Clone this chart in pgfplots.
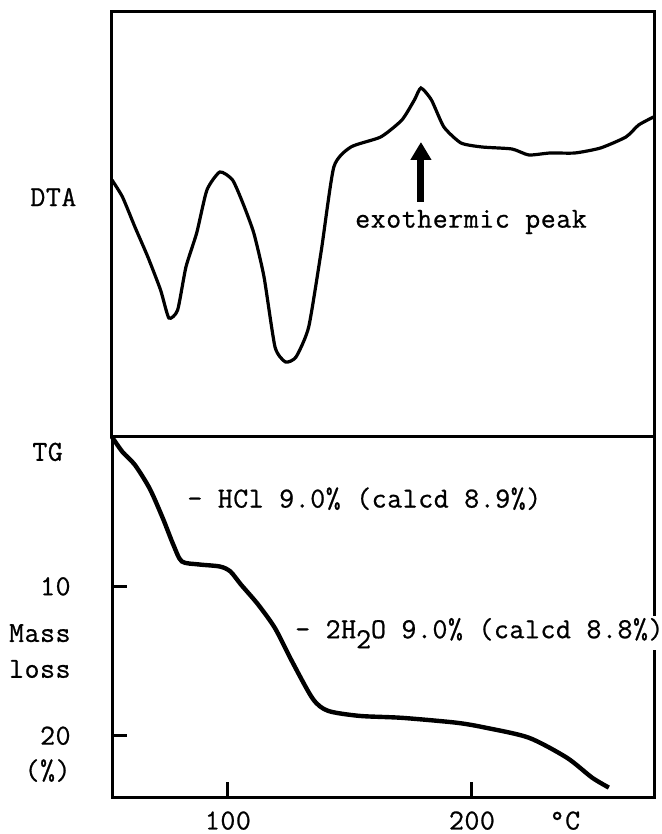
\documentclass[border=0pt]{standalone}
\usepackage{fontspec}
\setmainfont{Latin Modern Mono}[LetterSpace=2, FakeBold=0.8]
\usepackage{pgfplots}
\pgfplotsset{compat=1.18}
\usetikzlibrary{arrows.meta}
\newcommand{\tw}{\fontsize{14.5pt}{16pt}\selectfont}

\pgfplotsset{
  panel/.style={
    scale only axis, width=271pt,
    xmin=52.5, xmax=274.6,
    axis line style={line width=1.5pt},
    clip=false,
    tick align=inside,
    major tick length=7.5pt,
    tick style={line width=1.5pt, black},
    ticklabel style={font=\tw},
    /pgf/number format/assume math mode=true,
  }
}

\begin{document}
\begin{tikzpicture}[font=\tw]

% ---------- TG (mass loss, %) ----------
\begin{axis}[panel, name=tg,
    at={(0,0)}, anchor=south west,
    height=180pt,
    ymin=0, ymax=24.1, y dir=reverse,
    xtick={100,200}, ytick={10,20},
    xtick pos=bottom, ytick pos=left,
    xticklabel style={inner sep=0pt, anchor=north, yshift=-7pt},
    yticklabel style={inner sep=0pt, anchor=east, xshift=-20.5pt},
]
\addplot[line width=2.2pt, smooth, tension=0.45] table {
T    loss
52.5 0.00
56.8 1.00
61.9 1.87
68.0 3.47
73.4 5.47
77.6 7.20
81.1 8.33
88.0 8.53
96.7 8.67
101.0 9.00
105.3 9.87
112.3 11.20
119.3 12.80
126.2 15.00
134.8 17.53
141.0 18.33
153.9 18.67
171.3 18.80
193.8 19.13
205.9 19.47
223.3 20.13
238.9 21.47
249.2 22.80
256.1 23.47
};
\node[anchor=west, inner sep=0pt, xshift=-40pt] at (axis cs:52.5,1.0) {TG};
\node[anchor=east, inner sep=0pt, xshift=-20.5pt] at (axis cs:52.5,13.13) {Mass};
\node[anchor=east, inner sep=0pt, xshift=-20.5pt] at (axis cs:52.5,15.53) {loss};
\node[anchor=east, inner sep=0pt, xshift=-20.5pt] at (axis cs:52.5,22.33) {(\%)};
\node[anchor=north, inner sep=0pt, yshift=-7pt] at (axis cs:238.1,24.1) {°C};
\coordinate (hcl) at (axis cs:82.4,4.13);
\coordinate (water) at (axis cs:126.6,13.13);
\end{axis}

\node[anchor=west, inner sep=1pt] at (hcl) {- HCl 9.0\% (calcd 8.9\%)};
\node[anchor=west, inner sep=1pt, fill=white] at (water)
  {- 2H\raisebox{-5pt}{2}O 9.0\% (calcd 8.8\%)};

% ---------- DTA ----------
\begin{axis}[panel, name=dta,
    at={(0,180pt)}, anchor=south west,
    height=212.5pt,
    ymin=0, ymax=425,
    xtick=\empty, ytick=\empty,
]
\addplot[line width=1.6pt, smooth, tension=0.35] table {
T     dta
52.5  257
56.8  240
61.9  210
67.2  180
72.4  147
75.8  119
79.4  127
82.8  170
87.2  204
91.4  247
96.7  265
101.9 257
106.1 234
110.6 204
114.8 160
119.3 90
123.6 75
127.9 80
133.1 110
138.3 187
143.4 270
150.4 290
162.6 300
171.3 317
176.4 337
179.1 349
183.4 337
188.5 310
195.5 294
204.1 290
216.4 288
223.3 282
232.0 284
242.2 284
252.7 289
263.1 300
268.3 312
274.4 320
};
\draw[line width=3.5pt, -{Triangle[width=10pt,length=9pt]}]
  (axis cs:179.1,235) -- (axis cs:179.1,295);
\node[anchor=west, inner sep=0pt] at (axis cs:152.0,215) {exothermic peak};
\node[anchor=west, inner sep=0pt, xshift=-41pt] at (axis cs:52.5,240) {DTA};
\end{axis}

\pgfresetboundingbox
\path ([xshift=-56pt,yshift=-18.5pt]tg.south west)
  rectangle ([xshift=275pt,yshift=6pt]dta.north west);
\end{tikzpicture}
\end{document}
